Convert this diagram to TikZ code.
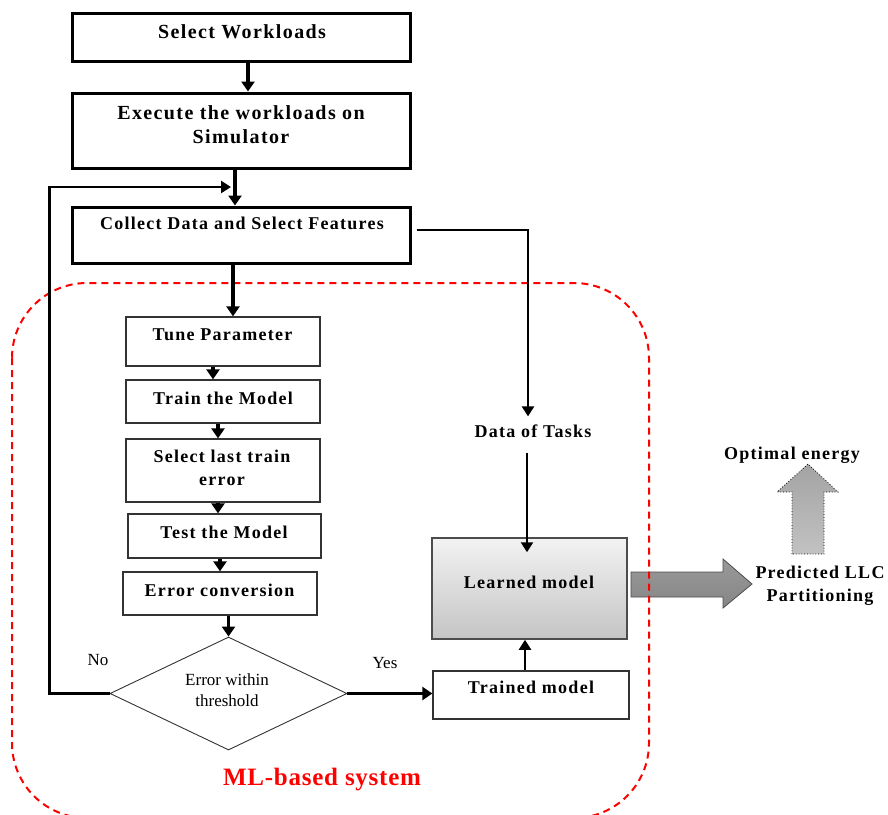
\documentclass[tikz,border=0pt]{standalone}
\usepackage{fontspec}
\setmainfont{Liberation Serif}
\newfontfamily\spacedfont{Liberation Serif}[LetterSpace=7]
\newfontfamily\redfont{Liberation Serif}[LetterSpace=3]
\usetikzlibrary{shapes.geometric,arrows.meta}
\tikzset{
  bigbox/.style={draw=black, line width=3pt, minimum width=338pt, inner sep=0pt},
  smallbox/.style={draw=black!80, line width=1.3pt, inner sep=0pt},
  bigtxt/.style={font=\spacedfont\bfseries\fontsize{20}{24}\selectfont, align=center, inner sep=0pt},
  txt/.style={font=\spacedfont\bfseries\fontsize{18}{23}\selectfont, align=center, inner sep=0pt},
  plaintxt/.style={font=\fontsize{17}{21}\selectfont, align=center, inner sep=0pt},
  conn/.style={line width=3.2pt, -{Triangle[length=10pt,width=13pt]}},
  thinconn/.style={line width=2.4pt, -{Triangle[length=10pt,width=12pt]}},
  fbline/.style={line width=2.4pt, -{Triangle[length=10pt,width=12pt]}},
  mlzone/.style={draw=red, line width=2pt, dash pattern=on 7pt off 5pt, rounded corners=75pt},
  bigarrow/.style={draw=black!70, line width=0.8pt, top color=gray!80, bottom color=gray!95},
  uparrow/.style={draw=black, dotted, line width=0.8pt, top color=gray!72, bottom color=gray!48},
}
\begin{document}
\begin{tikzpicture}[x=1pt,y=-1pt]
\useasboundingbox (0,0) rectangle (888,814);
\fill[white] (0,0) rectangle (888,814);

% gray output arrows
\draw[bigarrow] (631,572) -- (723,572) -- (723,559) -- (752,584) -- (723,608) -- (723,597) -- (631,597) -- cycle;
\draw[uparrow] (792,554) -- (792,492) -- (777,492) -- (808,464) -- (838,492) -- (824,492) -- (824,554) -- cycle;

% ML zone
\begin{scope}
\clip (0,0) rectangle (888,814);
\draw[mlzone] (12,283) rectangle (649,818);
\end{scope}

% top boxes
\node[bigbox, minimum height=48pt] (sel) at (241,37) {};
\node[bigtxt] (selt) at (242,32) {Select Workloads};
\node[bigbox, minimum height=75pt] (exe) at (241,130.5) {};
\node[bigtxt] (exet) at (241,125) {Execute the workloads on\\Simulator};
\node[bigbox, minimum height=56pt] (col) at (241,235) {};
\node[txt] (colt) at (242,223) {Collect Data and Select Features};

% small boxes
\node[smallbox, minimum width=194pt, minimum height=49pt] (tune) at (223,341.5) {};
\node[txt] (tunet) at (222.5,335) {Tune Parameter};
\node[smallbox, minimum width=194pt, minimum height=43pt] (train) at (223,401.5) {};
\node[txt] (traint) at (223,398) {Train the Model};
\node[smallbox, minimum width=194pt, minimum height=63pt] (last) at (223,470.5) {};
\node[txt] (lastt) at (222,467.5) {Select last train\\error};
\node[smallbox, minimum width=193pt, minimum height=44pt] (test) at (224.5,536) {};
\node[txt] (testt) at (224,532) {Test the Model};
\node[smallbox, minimum width=194pt, minimum height=43pt] (conv) at (220,593.5) {};
\node[txt] (convt) at (219.5,590) {Error conversion};
\node[diamond, draw=black!80, line width=0.9pt, minimum width=237pt, minimum height=113pt, inner sep=0pt] (dia) at (228.5,693.5) {};
\node[plaintxt] (diat) at (227,690) {Error within\\threshold};
\node[plaintxt] (no) at (98,660) {No};
\node[plaintxt] (yes) at (385,663) {Yes};

% right side
\node[smallbox, minimum width=196pt, minimum height=48pt] (trained) at (531,695) {};
\node[txt] (trainedt) at (531,687) {Trained model};
\node[draw=black!70, line width=1.5pt, top color=gray!10, bottom color=gray!46, minimum width=195pt, minimum height=101pt, inner sep=0pt] (learned) at (529.5,588.5) {};
\node[txt] (learnedt) at (529,582) {Learned model};
\node[txt] (data) at (533,431) {Data of Tasks};
\node[txt] (opt) at (792,455) {Optimal energy};
\node[txt] (pred) at (820,586) {Predicted LLC\\Partitioning};
\node[font=\redfont\bfseries\fontsize{25}{30}\selectfont, text=red, inner sep=0pt] (ml) at (322,780) {ML-based system};

% connectors
\draw[conn] ([xshift=7pt]sel.south) -- ([xshift=7pt]sel.south |- exe.north);
\draw[conn] ([xshift=-6pt]exe.south) -- ([xshift=-6pt]exe.south |- col.north);
\coordinate (fbend) at (231,187);
\draw[fbline] (dia.west) -- ++(-60,0) |- (fbend);
\draw[conn] ([xshift=-8pt]col.south) -- ([xshift=-8pt]col.south |- tune.north);
\draw[conn] ([xshift=-10pt]tune.south) -- ([xshift=-10pt]tune.south |- train.north);
\draw[conn] ([xshift=-5pt]train.south) -- ([xshift=-5pt]train.south |- last.north);
\draw[conn] ([xshift=-5pt]last.south) -- ([xshift=-5pt]last.south |- test.north);
\draw[conn] ([xshift=-4.5pt]test.south) -- ([xshift=-4.5pt]test.south |- conv.north);
\draw[conn] (conv.south -| dia.north) -- (dia.north);
\draw[conn] (dia.east) -- (dia.east -| trained.west);
\draw[thinconn] ([xshift=-6pt]trained.north) -- ([xshift=-6pt]trained.north |- learned.south);
\draw[thinconn] ([xshift=5pt,yshift=5pt]col.east) -| ([xshift=-5pt,yshift=8pt]data.north);
\draw[thinconn] ([xshift=-6pt,yshift=-15pt]data.south) -- ([xshift=-6pt,yshift=-15pt]data.south |- learned.north);
\end{tikzpicture}
\end{document}
